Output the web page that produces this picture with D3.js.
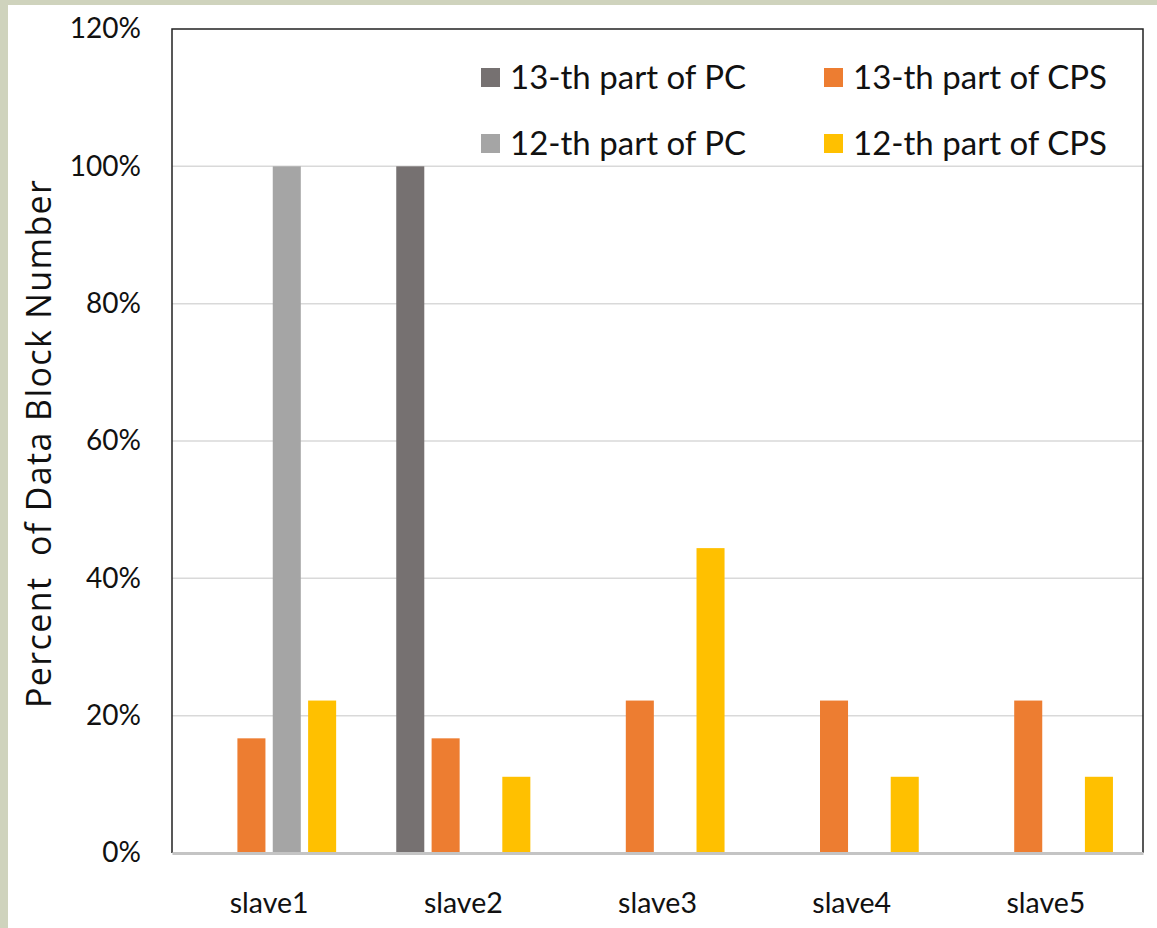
<!DOCTYPE html>
<html>
<head>
<meta charset="utf-8">
<script src="https://cdn.jsdelivr.net/npm/d3@7"></script>
<style>
  html, body { margin: 0; padding: 0; background: #cfd3bd; }
  svg { display: block; }
</style>
</head>
<body>
<svg id="chart" width="1157" height="928"></svg>
<script>
const categories = ["slave1", "slave2", "slave3", "slave4", "slave5"];
const seriesNames = ["13-th part of PC", "13-th part of CPS", "12-th part of PC", "12-th part of CPS"];
const pc13  = [0, 100, 0, 0, 0];
const cps13 = [16.7, 16.7, 22.2, 22.2, 22.2];
const pc12  = [100, 0, 0, 0, 0];
const cps12 = [22.2, 11.1, 44.4, 11.1, 11.1];
const seriesValues = [pc13, cps13, pc12, cps12];
const colors = ["#767171", "#ED7D31", "#A5A5A5", "#FFC000"];
const yTicks = [0, 20, 40, 60, 80, 100, 120];
const yTitle = "Percent\u00a0 of Data Block Number";

const svg = d3.select("#chart");
const font = "Lato, 'Open Sans', sans-serif";

// white panel
svg.append("rect").attr("x", 8).attr("y", 5).attr("width", 1157 - 8).attr("height", 928 - 5).attr("fill", "#ffffff");

const m = { left: 172, top: 29, right: 1143, bottom: 853 };

const x0 = d3.scaleBand().domain(categories).range([m.left, m.right]).paddingInner(0).paddingOuter(0);
const x1 = d3.scaleBand().domain(d3.range(seriesNames.length)).range([0, x0.bandwidth()])
  .paddingInner(0.207).paddingOuter(0.85);
const y = d3.scaleLinear().domain([0, 120]).range([m.bottom, m.top]);

// gridlines
svg.append("g").selectAll("line").data(yTicks.filter(t => t > 0 && t < 120)).join("line")
  .attr("x1", m.left).attr("x2", m.right)
  .attr("y1", d => y(d)).attr("y2", d => y(d))
  .attr("stroke", "#d9d9d9").attr("stroke-width", 1.5);

// bars
const groups = svg.append("g").selectAll("g").data(categories).join("g")
  .attr("transform", d => `translate(${x0(d)},0)`);
groups.selectAll("rect")
  .data((c, i) => seriesValues.map((vals, s) => ({ s, v: vals[i] })).filter(d => d.v > 0))
  .join("rect")
  .attr("x", d => x1(d.s))
  .attr("width", x1.bandwidth())
  .attr("y", d => y(d.v))
  .attr("height", d => y(0) - y(d.v))
  .attr("fill", d => colors[d.s]);

// frame: left, top, right black
svg.append("path")
  .attr("d", `M${m.left},${m.bottom}V${m.top}H${m.right}V${m.bottom}`)
  .attr("fill", "none").attr("stroke", "#222").attr("stroke-width", 1.5);

// bottom axis (gray)
const xAxis = svg.append("g").attr("transform", `translate(0,${m.bottom})`)
  .call(d3.axisBottom(x0).tickSize(0).tickPadding(40));
xAxis.select(".domain").attr("stroke", "#c4c4c4").attr("stroke-width", 3);
xAxis.selectAll("text").attr("font-family", font).attr("font-size", 28.5).attr("fill", "#111");

// y axis labels
const yAxis = svg.append("g").attr("transform", `translate(${m.left},0)`)
  .call(d3.axisLeft(y).tickValues(yTicks).tickFormat(d => d + "%").tickSize(0).tickPadding(31));
yAxis.select(".domain").remove();
yAxis.selectAll("text").attr("font-family", font).attr("font-size", 28).attr("fill", "#111");

// y title
svg.append("text")
  .attr("transform", `translate(51,${(m.top + m.bottom) / 2 + 3}) rotate(-90)`)
  .attr("text-anchor", "middle")
  .attr("font-family", "'Open Sans', sans-serif").attr("font-size", 34).attr("fill", "#111")
  .attr("textLength", 528).attr("lengthAdjust", "spacing")
  .text(yTitle);

// legend
const legendPos = [
  { x: 481, y: 77 }, { x: 824, y: 77 },
  { x: 481, y: 143 }, { x: 824, y: 143 }
];
const lg = svg.append("g").selectAll("g").data(seriesNames).join("g")
  .attr("transform", (d, i) => `translate(${legendPos[i].x},${legendPos[i].y})`);
lg.append("rect").attr("x", 0).attr("y", -9).attr("width", 19).attr("height", 19)
  .attr("fill", (d, i) => colors[i]);
lg.append("text").attr("x", 29).attr("y", 0).attr("dy", "0.35em")
  .attr("font-family", font).attr("font-size", 33).attr("fill", "#111")
  .text(d => d);
</script>
</body>
</html>
